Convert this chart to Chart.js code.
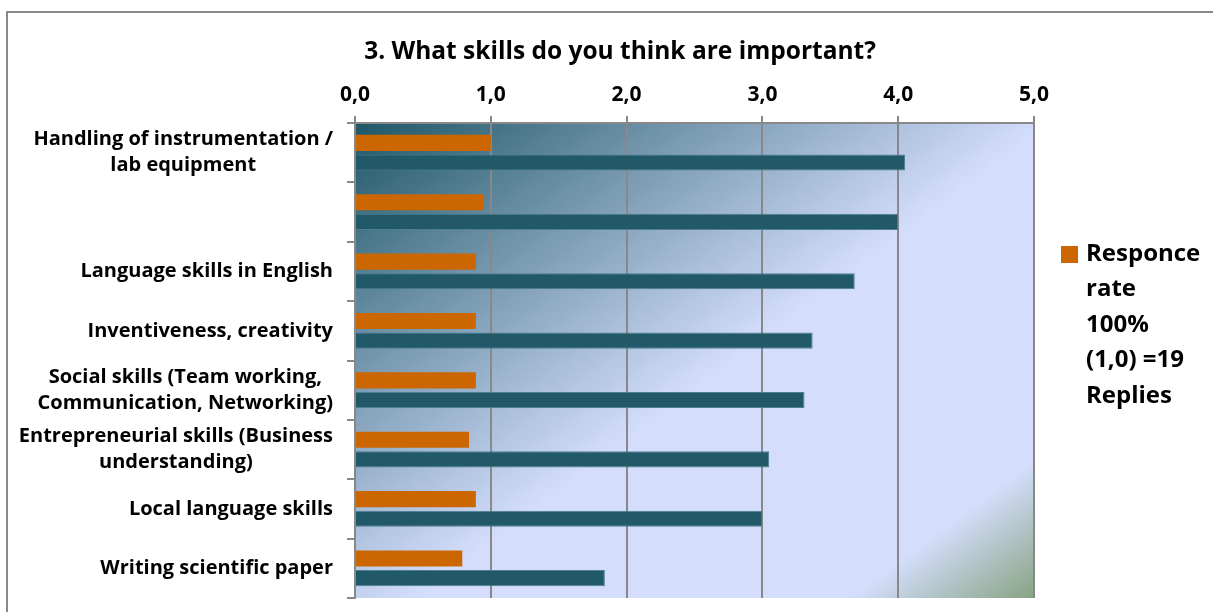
<!DOCTYPE html>
<html>
<head>
<meta charset="utf-8">
<script src="https://cdn.jsdelivr.net/npm/chart.js@4.4.0/dist/chart.umd.min.js"></script>
<style>
  html, body { margin: 0; padding: 0; background: #fff; }
</style>
</head>
<body>
<canvas id="myChart" width="1213" height="612"></canvas>
<script>
// data
const chartTitle = '3. What skills do you think are important?'
const skills = [
    ['Handling of instrumentation /', 'lab equipment'],
    '',
    'Language skills in English',
    'Inventiveness, creativity',
    ['Social skills (Team working,', 'Communication, Networking)'],
    ['Entrepreneurial skills (Business', 'understanding)'],
    'Local language skills',
    'Writing scientific paper'
]
const responseRate = [1.0, 0.95, 0.89, 0.89, 0.89, 0.84, 0.89, 0.79]
const importance = [4.05, 4.0, 3.68, 3.37, 3.31, 3.05, 3.0, 1.84]
const xTicks = [0, 1, 2, 3, 4, 5]
const legendLines = ['Responce', 'rate', '100%', '(1,0) =19', 'Replies']

const FONT = '"Open Sans", Lato, sans-serif'
const GRID = '#888888'

// white page, grey frame and gradient plot background
const backdrop = {
    id: 'backdrop',
    beforeDraw(chart) {
        const ctx = chart.ctx
        const a = chart.chartArea
        ctx.save()
        ctx.fillStyle = '#fff'
        ctx.fillRect(0, 0, chart.width, chart.height)
        ctx.fillStyle = '#8a8a8a'
        ctx.fillRect(6, 11, 2, chart.height)
        ctx.fillRect(6, 11, chart.width, 2)

        const w = a.right - a.left
        const h = a.bottom - a.top
        const len = 0.6 * w + 0.8 * h
        const g = ctx.createLinearGradient(a.left, a.top, a.left + 0.6 * len, a.top + 0.8 * len)
        g.addColorStop(0, '#1f5767')
        g.addColorStop(0.53, '#d4defc')
        g.addColorStop(0.86, '#d4defc')
        g.addColorStop(1, '#87a383')
        ctx.fillStyle = g
        ctx.fillRect(a.left, a.top, w, h)
        ctx.restore()
    }
}

// title, category labels (lines centred, blocks right aligned) and the legend
const sideText = {
    id: 'sideText',
    afterDraw(chart) {
        const ctx = chart.ctx
        const yScale = chart.scales.y
        ctx.save()
        ctx.fillStyle = '#000'
        ctx.textBaseline = 'middle'
        ctx.textAlign = 'center'

        ctx.font = 'bold 24.5px ' + FONT
        ctx.fillText(chartTitle, 620, 52)

        const right = yScale.right - 22
        const lh = 26
        ctx.font = 'bold 20px ' + FONT
        skills.forEach((lbl, i) => {
            const lines = Array.isArray(lbl) ? lbl : [lbl]
            if (!lines[0]) return
            const widest = Math.max(...lines.map(l => ctx.measureText(l).width))
            const cx = right - widest / 2
            const y0 = yScale.getPixelForValue(i) - (lines.length - 1) * lh / 2
            lines.forEach((l, k) => ctx.fillText(l, cx, y0 + k * lh))
        })

        const lx = chart.chartArea.right + 27
        const ly = 254
        ctx.fillStyle = chart.data.datasets[0].backgroundColor
        ctx.fillRect(lx, ly - 8, 17, 17)
        ctx.fillStyle = '#000'
        ctx.textAlign = 'left'
        ctx.font = 'bold 24px ' + FONT
        legendLines.forEach((l, k) => ctx.fillText(l, lx + 25, ly + k * 35.5))
        ctx.restore()
    }
}

new Chart(document.getElementById('myChart'), {
    type: 'bar',
    data: {
        labels: skills,
        datasets: [{
            label: legendLines.join(' '),
            data: responseRate,
            backgroundColor: '#cc6600',
            categoryPercentage: 0.66,
            barPercentage: 0.82
        }, {
            label: 'Importance',
            data: importance,
            backgroundColor: '#215968',
            borderColor: '#4d7f8e',
            borderWidth: 1,
            categoryPercentage: 0.66,
            barPercentage: 0.82
        }]
    },
    options: {
        indexAxis: 'y',
        responsive: false,
        animation: false,
        layout: { padding: { top: 65.6, left: 0, right: 179, bottom: 14 } },
        plugins: {
            legend: { display: false },
            tooltip: { enabled: false },
            title: { display: false }
        },
        scales: {
            x: {
                position: 'top',
                min: 0,
                max: 5,
                afterBuildTicks: s => { s.ticks = xTicks.map(v => ({ value: v })) },
                afterFit: s => { s.height = 57.4 },
                ticks: {
                    callback: v => v.toFixed(1).replace('.', ','),
                    color: '#000',
                    padding: 8.4,
                    font: { family: FONT, size: 21, weight: 'bold' }
                },
                grid: { color: GRID, lineWidth: 2, tickLength: 7 },
                border: { color: GRID, width: 2 }
            },
            y: {
                afterFit: s => { s.width = 355 },
                ticks: { display: false },
                grid: { drawOnChartArea: false, color: GRID, lineWidth: 2, tickLength: 8, offset: true },
                border: { color: GRID, width: 2 }
            }
        }
    },
    plugins: [backdrop, sideText]
})
</script>
</body>
</html>
